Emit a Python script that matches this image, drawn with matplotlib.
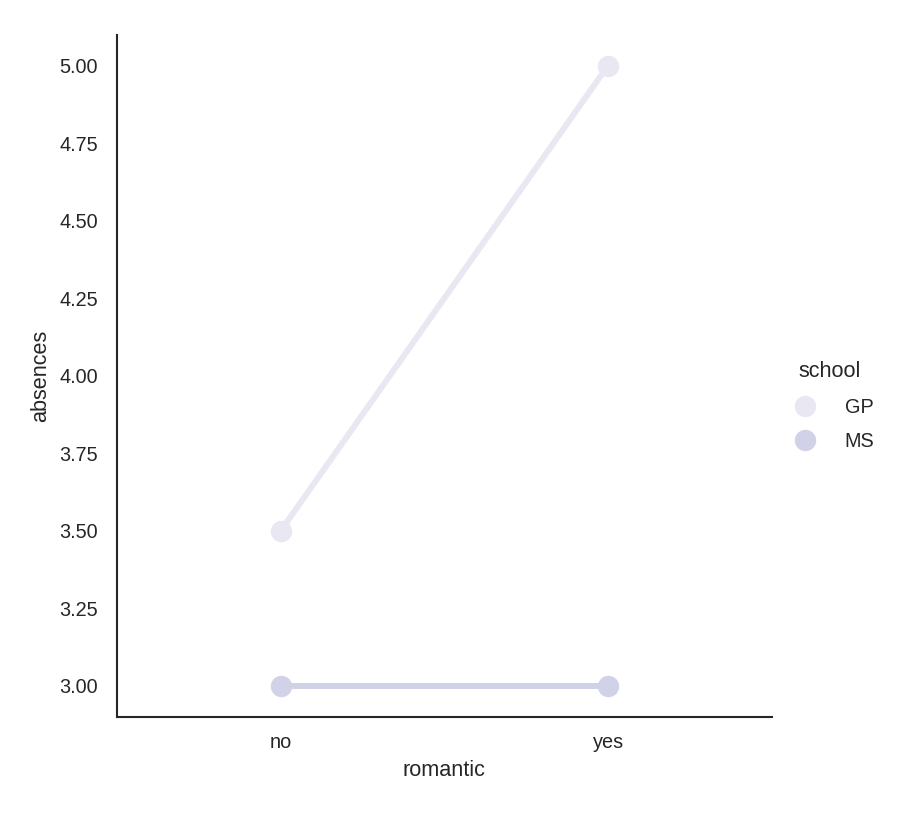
import matplotlib.pyplot as plt
from matplotlib.lines import Line2D

# Daten
romantic = ['no', 'yes']
schools = ['GP', 'MS']
absences_gp = [3.5, 5.0]
absences_ms = [3.0, 3.0]
colors = ['#e9e8f2', '#d1d2e8']

plt.rcParams['font.family'] = ['Liberation Sans', 'DejaVu Sans']
plt.rcParams['text.color'] = '#262626'

fig = plt.figure(figsize=(9.22, 8.22), dpi=100)
ax = fig.add_axes([0.127, 0.128, 0.710, 0.830])

for vals, c in zip([absences_gp, absences_ms], colors):
    ax.plot(romantic, vals, color=c, linewidth=4.3, marker='o',
            markersize=14.4, solid_capstyle='round')

ax.set_xlim(-0.5, 1.5)
ax.set_ylim(2.9, 5.1)
ax.set_yticks([3.0, 3.25, 3.5, 3.75, 4.0, 4.25, 4.5, 4.75, 5.0])
ax.set_yticklabels(['%.2f' % v for v in ax.get_yticks()])
ax.tick_params(length=0, labelsize=14.3, colors='#262626')
ax.tick_params(axis='x', pad=11.5)
ax.tick_params(axis='y', pad=14)
ax.set_xlabel('romantic', fontsize=15.6, color='#262626', labelpad=6)
ax.set_ylabel('absences', fontsize=15.6, color='#262626', labelpad=5.5)
for s in ['top', 'right']:
    ax.spines[s].set_visible(False)
for s in ['left', 'bottom']:
    ax.spines[s].set_color('#262626')
    ax.spines[s].set_linewidth(1.5)

handles = [Line2D([], [], linestyle='none', marker='o', markersize=14.4, color=c)
           for c in colors]
fig.legend(handles, schools, title='school', loc='center left',
           bbox_to_anchor=(0.832, 0.506), frameon=False, fontsize=14.3,
           title_fontsize=15.6, handletextpad=1.0, labelspacing=0.77)

fig.savefig('out.png', dpi=100)
